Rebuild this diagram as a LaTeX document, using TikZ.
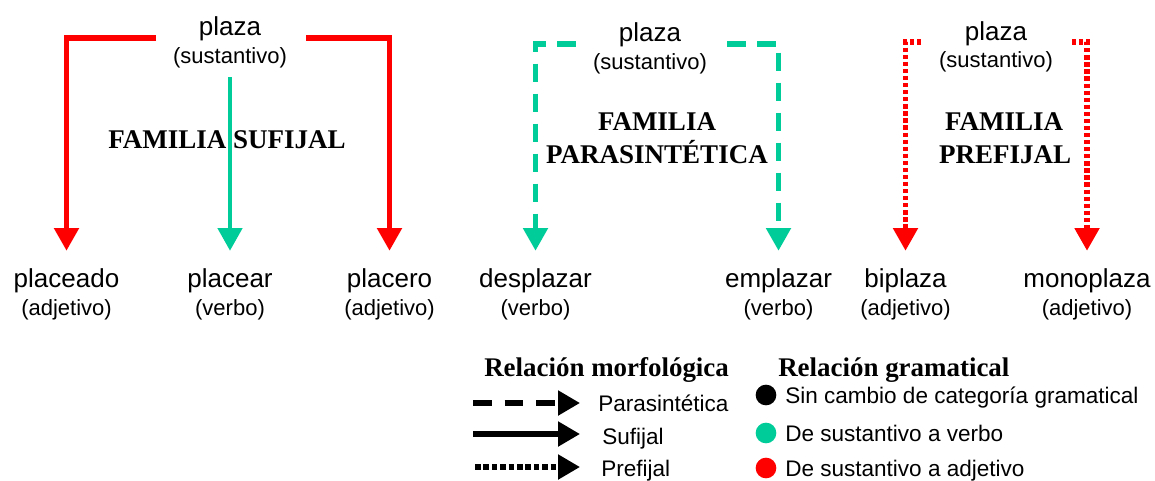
\documentclass[tikz,border=0pt]{standalone}
\usepackage{fontspec}
\setmainfont{Liberation Sans}
\newfontfamily\serifb{Liberation Serif}
\usetikzlibrary{arrows.meta}
\definecolor{myred}{RGB}{255,0,0}
\definecolor{mygreen}{RGB}{0,204,153}
\tikzset{
  word/.style={font=\fontsize{19.5pt}{22pt}\selectfont, inner sep=0pt, anchor=base, text height=14.25pt, text depth=4pt},
  cat/.style={font=\fontsize{16.5pt}{19pt}\selectfont, inner sep=0pt, anchor=base, text height=12.5pt, text depth=4pt},
  fam/.style={font=\serifb\bfseries\fontsize{20.25pt}{24pt}\selectfont, inner sep=0pt, anchor=base},
  head/.style={font=\serifb\bfseries\fontsize{20.2pt}{22pt}\selectfont, inner sep=0pt, anchor=base west},
  item/.style={font=\fontsize{16.9pt}{20pt}\selectfont, inner sep=0pt, anchor=base west},
  bigtip/.style={-{Triangle[width=18pt,length=17pt]}},
  legtip/.style={-{Triangle[width=18pt,length=16.5pt]}},
  conn/.style={line width=3.8pt, bigtip, shorten >=12.75pt},
  solidred/.style={conn, myred},
  solidgreen/.style={conn, mygreen, line width=3.4pt},
  dashgreen/.style={conn, mygreen, dash pattern=on 14pt off 8.5pt},
  dotred/.style={conn, myred, dash pattern=on 3.2pt off 2.1pt},
  legline/.style={line width=3.9pt, black, legtip},
  dot/.style={circle, inner sep=0pt, minimum size=15.5pt},
}
\begin{document}
\begin{tikzpicture}[x=0.75pt, y=-0.75pt]
\useasboundingbox (0,0) rectangle (1155,480);

% ---------- Familia sufijal ----------
\node[word] (p1) at (230,35) {plaza};
\node[cat]  (s1) at (230,63) {(sustantivo)};
\node[fam]  (f1) at (227,148) {FAMILIA SUFIJAL};
\node[word] (w11) at (66.5,287) {placeado};
\node[cat]  (c11) at (66.5,315) {(adjetivo)};
\node[word] (w12) at (230,287) {placear};
\node[cat]  (c12) at (230,315) {(verbo)};
\node[word] (w13) at (389.5,287) {placero};
\node[cat]  (c13) at (389.5,315) {(adjetivo)};
\coordinate (l1) at (156,38);
\coordinate (r1) at (306,38);
\draw[solidred] (l1) -| (w11.north);
\draw[solidred] (r1) -| (w13.north);
\draw[solidgreen, shorten <=6.5pt] (s1.south) -- (w12.north);

% ---------- Familia parasintetica ----------
\node[word] (p2) at (650,41) {plaza};
\node[cat]  (s2) at (650,69) {(sustantivo)};
\node[fam]  (f2a) at (657,130) {FAMILIA};
\node[fam]  (f2b) at (657,163) {PARASINTÉTICA};
\node[word] (w21) at (535.5,287) {desplazar};
\node[cat]  (c21) at (535.5,315) {(verbo)};
\node[word] (w22) at (778.5,287) {emplazar};
\node[cat]  (c22) at (778.5,315) {(verbo)};
\coordinate (l2) at (576,44);
\coordinate (r2) at (727,44);
\draw[dashgreen] (l2) -| (w21.north);
\draw[dashgreen] (r2) -| (w22.north);

% ---------- Familia prefijal ----------
\node[word] (p3) at (996,40) {plaza};
\node[cat]  (s3) at (996,67) {(sustantivo)};
\node[fam]  (f3a) at (1004,130) {FAMILIA};
\node[fam]  (f3b) at (1005,163) {PREFIJAL};
\node[word] (w31) at (905.5,287) {biplaza};
\node[cat]  (c31) at (905.5,315) {(adjetivo)};
\node[word] (w32) at (1087,287) {monoplaza};
\node[cat]  (c32) at (1087,315) {(adjetivo)};
\coordinate (l3) at (921,42);
\coordinate (r3) at (1072,42);
\draw[dotred] (l3) -| (w31.north);
\draw[dotred] (r3) -| (w32.north);

% ---------- Leyenda ----------
\node[head] (hm) at (484,376) {Relación morfológica};
\node[head] (hg) at (778,376) {Relación gramatical};

\node[item] (lp) at (598,411) {Parasintética};
\node[item] (lsu) at (602,444) {Sufijal};
\node[item] (lpr) at (601,476) {Prefijal};
\coordinate (ad) at (473,403);
\coordinate (as) at (473,434);
\coordinate (at) at (475,467);
\draw[legline, dash pattern=on 14pt off 9.75pt, shorten >=13.5pt] (ad) -- (ad -| lp.west);
\draw[legline, shorten >=16.5pt] (as) -- (as -| lsu.west);
\draw[legline, dash pattern=on 4.2pt off 2.1pt, shorten >=15.75pt] (at) -- (at -| lpr.west);

\node[dot, fill=black]    (d1) at (766,395) {};
\node[dot, fill=mygreen]  (d2) at (766,433) {};
\node[dot, fill=myred]    (d3) at (766,468) {};
\node[item] (g1) at (785,403) {Sin cambio de categoría gramatical};
\node[item] (g2) at (785,441) {De sustantivo a verbo};
\node[item] (g3) at (785,476) {De sustantivo a adjetivo};
\end{tikzpicture}
\end{document}
